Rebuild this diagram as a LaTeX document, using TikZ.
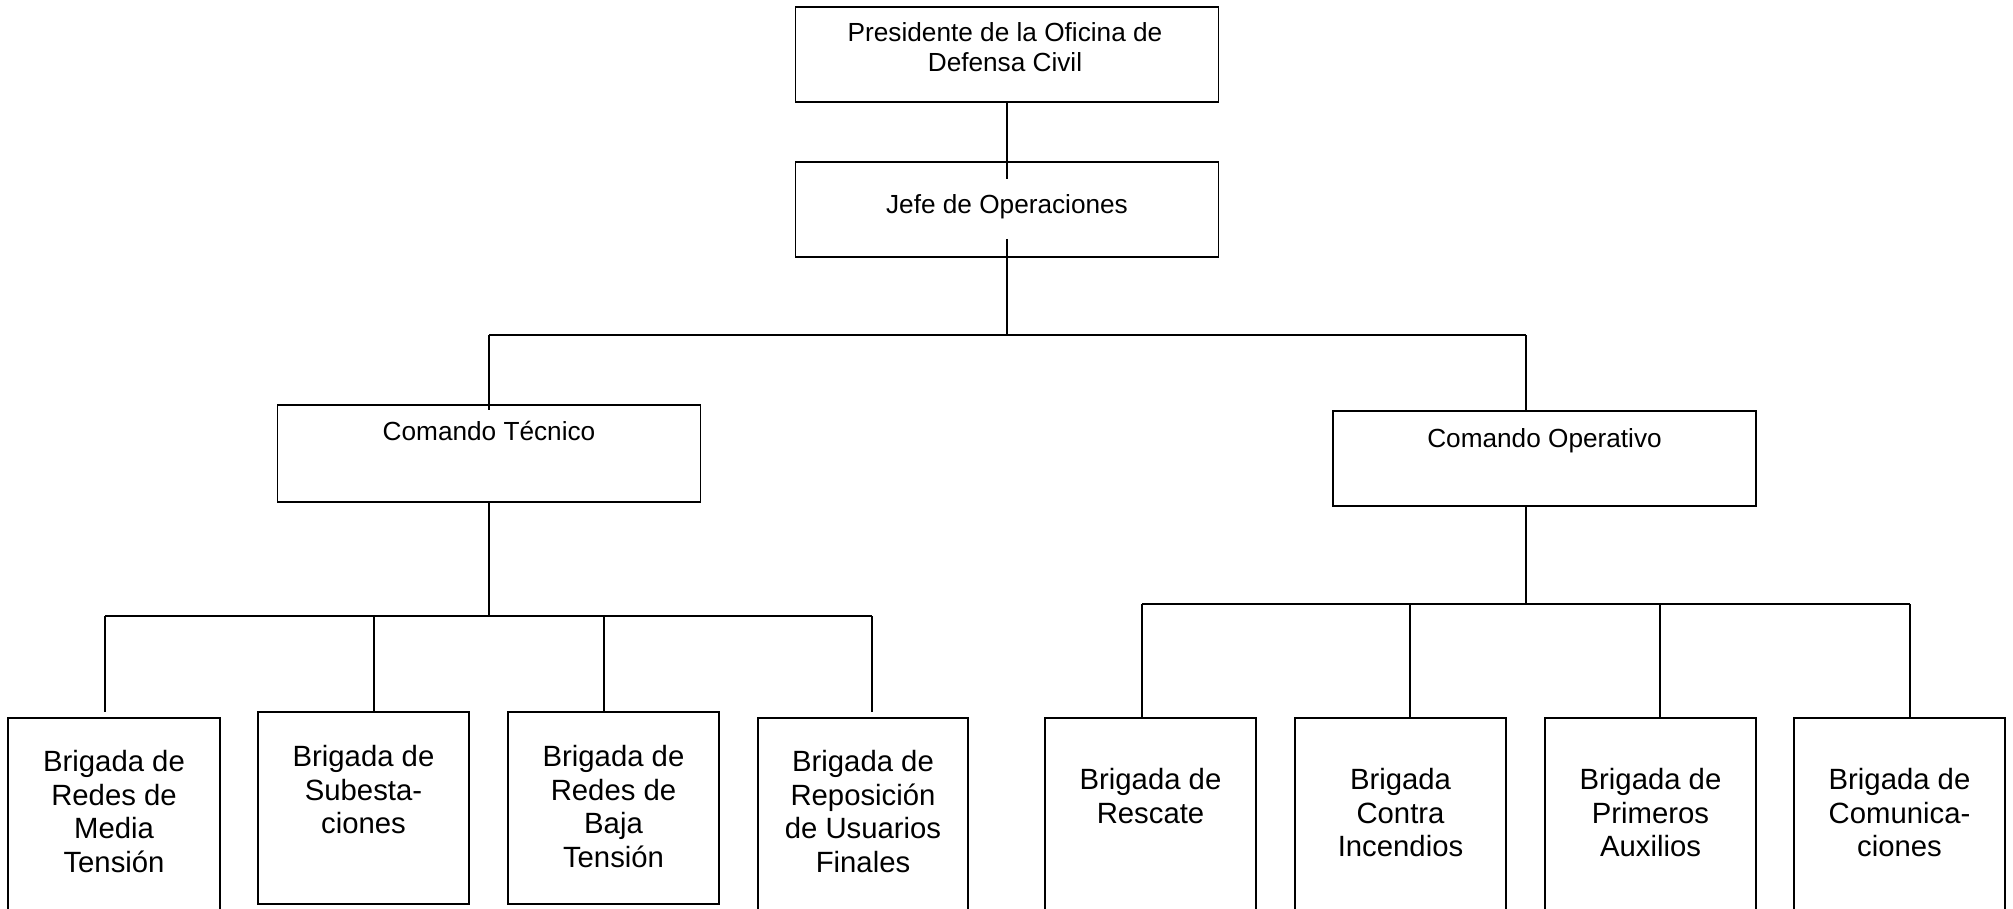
\documentclass[tikz,border=0pt]{standalone}
\usepackage{fontspec}
\setmainfont{Liberation Sans}
\begin{document}
\begin{tikzpicture}[x=1pt,y=-1pt,
  box/.style={draw=black, line width=1.8pt, rectangle, inner sep=0pt},
  ln/.style={draw=black, line width=2pt},
  toptxt/.style={inner sep=0pt, align=center, font=\fontsize{26.2}{30.3}\selectfont},
  bottxt/.style={inner sep=0pt, align=center, font=\fontsize{29.3}{33.7}\selectfont}]
\useasboundingbox (0,0) rectangle (2013,908);
\clip (0,0) rectangle (2013,908);
\fill[white] (0,0) rectangle (2013,908);

% top level boxes
\node[box, minimum width=423pt, minimum height=95pt] (P)  at (1007,54.5) {};
\node[box, minimum width=423pt, minimum height=95pt] (J)  at (1007,209.5) {};
\node[box, minimum width=423pt, minimum height=97pt] (CT) at (489,453.5) {};
\node[box, minimum width=423pt, minimum height=95pt] (CO) at (1544.5,458.5) {};

% bottom boxes
\node[box, minimum width=212pt, minimum height=212pt] (B1) at (114,824) {};
\node[box, minimum width=211pt, minimum height=192pt] (B2) at (363.5,808) {};
\node[box, minimum width=211pt, minimum height=192pt] (B3) at (613.5,808) {};
\node[box, minimum width=210pt, minimum height=212pt] (B4) at (863,824) {};
\node[box, minimum width=211pt, minimum height=212pt] (B5) at (1150.5,824) {};
\node[box, minimum width=211pt, minimum height=212pt] (B6) at (1400.5,824) {};
\node[box, minimum width=211pt, minimum height=212pt] (B7) at (1650.5,824) {};
\node[box, minimum width=211pt, minimum height=212pt] (B8) at (1899.5,824) {};

% texts
\node[toptxt, anchor=north] (tP) at (1005,22) {Presidente de la Oficina de\\Defensa Civil};
\node[toptxt, anchor=base] (tJ) at (1007,213) {Jefe de Operaciones};
\node[toptxt, anchor=base] (tCT) at (489,440) {Comando Técnico};
\node[toptxt, anchor=base] (tCO) at (1544.5,447) {Comando Operativo};

\node[bottxt, anchor=north] (t1) at (114,750) {Brigada de\\Redes de\\Media\\Tensión};
\node[bottxt, anchor=north] (t2) at (363.5,745) {Brigada de\\Subesta-\\ciones};
\node[bottxt, anchor=north] (t3) at (613.5,745) {Brigada de\\Redes de\\Baja\\Tensión};
\node[bottxt, anchor=north] (t4) at (863,750) {Brigada de\\Reposición\\de Usuarios\\Finales};
\node[bottxt, anchor=north] (t5) at (1150.5,768) {Brigada de\\Rescate};
\node[bottxt, anchor=north] (t6) at (1400.5,768) {Brigada\\Contra\\Incendios};
\node[bottxt, anchor=north] (t7) at (1650.5,768) {Brigada de\\Primeros\\Auxilios};
\node[bottxt, anchor=north] (t8) at (1899.5,768) {Brigada de\\Comunica-\\ciones};

% junction coordinates
\coordinate (barL) at (489,335);
\coordinate (barM) at (1007,335);
\coordinate (barR) at (1526,335);
\coordinate (ctB) at (489,616);
\coordinate (coB) at (1526,604);
\coordinate (l1) at (105,616);
\coordinate (l2) at (374,616);
\coordinate (l3) at (604,616);
\coordinate (l4) at (872,616);
\coordinate (r1) at (1142,604);
\coordinate (r2) at (1410,604);
\coordinate (r3) at (1660,604);
\coordinate (r4) at (1910,604);

% connectors
\draw[ln] (P.south) -- ([yshift=-18pt]J.north);
\draw[ln] ([yshift=19pt]J.south) -- (barM);
\draw[ln] (barL) -- (barR);
\draw[ln] (barL) -- ([yshift=-6pt]CT.north);
\draw[ln] (barR) -- (barR |- CO.north);
\draw[ln] (CT.south) -- (ctB);
\draw[ln] (barR |- CO.south) -- (coB);
\draw[ln] (l1) -- (l4);
\draw[ln] (r1) -- (r4);
\draw[ln, shorten >=5pt] (l1) -- (l1 |- B1.north);
\draw[ln] (l2) -- (l2 |- B2.north);
\draw[ln] (l3) -- (l3 |- B3.north);
\draw[ln, shorten >=5pt] (l4) -- (l4 |- B4.north);
\draw[ln] (r1) -- (r1 |- B5.north);
\draw[ln] (r2) -- (r2 |- B6.north);
\draw[ln] (r3) -- (r3 |- B7.north);
\draw[ln] (r4) -- (r4 |- B8.north);
\end{tikzpicture}
\end{document}
